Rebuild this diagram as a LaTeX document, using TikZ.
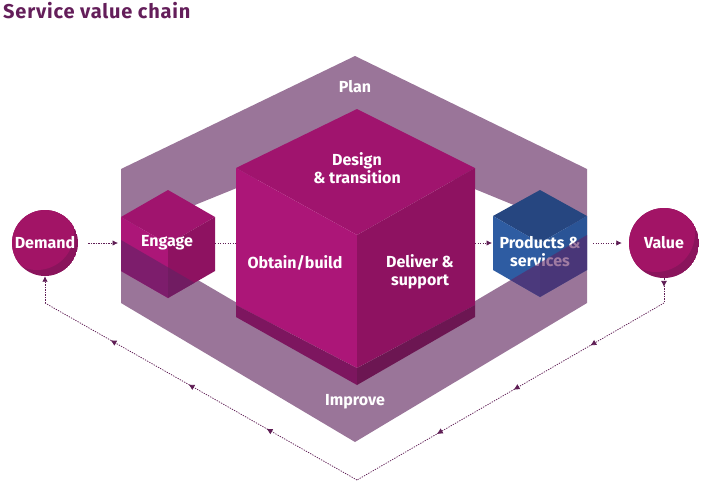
\documentclass[tikz,border=0pt]{standalone}
\usepackage{fontspec}
\setmainfont{Fira Sans}
\usetikzlibrary{arrows.meta,decorations.markings}
\definecolor{band}{RGB}{154,117,153}
\definecolor{ctop}{RGB}{160,20,110}
\definecolor{cleft}{RGB}{172,22,120}
\definecolor{cright}{RGB}{142,18,97}
\definecolor{sleft}{RGB}{125,22,95}
\definecolor{sright}{RGB}{108,22,82}
\definecolor{btop}{RGB}{38,70,128}
\definecolor{bleft}{RGB}{46,92,162}
\definecolor{bright}{RGB}{42,84,150}
\definecolor{overc}{RGB}{95,35,100}
\definecolor{flow}{RGB}{95,30,85}
\definecolor{titlec}{RGB}{100,30,90}
\definecolor{circl}{RGB}{162,20,102}
\definecolor{circd}{RGB}{138,20,92}
\begin{document}
\begin{tikzpicture}[x=1pt,y=-1pt,
  lbl/.style={text=white,font=\bfseries\fontsize{16}{18}\selectfont,align=center,inner sep=0pt},
  flowline/.style={draw=flow,line width=0.75pt,dash pattern=on 1.3pt off 1.2pt},
  tip/.style={-{Latex[length=5.5pt,width=5.5pt]}},
  midtips/.style 2 args={postaction={decorate},decoration={markings,
     mark=between positions #1 and #2 step 0.25 with {\arrow{Latex[length=6pt,width=6pt]}}}},
  onetip/.style={postaction={decorate},decoration={markings,
     mark=at position #1 with {\arrow{Latex[length=6pt,width=6pt]}}}},
  circ/.style={circle,minimum size=66pt,inner sep=0pt}]
\useasboundingbox (0,0) rectangle (703,485);

% title
\node[anchor=west,text=titlec,font=\bfseries\fontsize{20}{22}\selectfont\addfontfeature{LetterSpace=4},inner sep=0pt] (title) at (3,11) {Service value chain};

% band (plan / improve)
\fill[band,even odd rule] (355,56) -- (587,169) -- (587,303) -- (355,442) -- (121,303) -- (121,169) -- cycle
  (355,140) -- (587,235) -- (355,372) -- (121,235) -- cycle;
\node[lbl] (plan) at (355,87) {Plan};
\node[lbl] (improve) at (355,402) {Improve};

% Engage cube
\coordinate (et) at (168,190); \coordinate (eul) at (121,217); \coordinate (eur) at (215,217);
\coordinate (ec) at (168,244); \coordinate (ell) at (121,271); \coordinate (elr) at (215,271);
\coordinate (eb) at (168,298);
\fill[ctop] (et)--(eur)--(ec)--(eul)--cycle;
\fill[cleft] (eul)--(ec)--(eb)--(ell)--cycle;
\fill[cright] (eur)--(ec)--(eb)--(elr)--cycle;
\begin{scope}
  \clip (et)--(eur)--(elr)--(eb)--(ell)--(eul)--cycle;
  \fill[overc,opacity=0.6] (121,240)--(355,376)--(587,235)--(587,303)--(355,442)--(121,303)--cycle;
\end{scope}
\node[lbl] (engage) at (167,243) {Engage};

% Products cube
\coordinate (pt) at (540,190); \coordinate (pul) at (493,216); \coordinate (pur) at (587,216);
\coordinate (pc) at (540,243); \coordinate (pll) at (493,270); \coordinate (plr) at (587,270);
\coordinate (pb) at (540,297);
\fill[btop] (pt)--(pur)--(pc)--(pul)--cycle;
\fill[bleft] (pul)--(pc)--(pb)--(pll)--cycle;
\fill[bright] (pur)--(pc)--(pb)--(plr)--cycle;
\node[lbl] (products) at (540,252) {Products \&\\services};
\begin{scope}
  \clip (pt)--(pur)--(plr)--(pb)--(pll)--(pul)--cycle;
  \fill[overc,opacity=0.6] (121,235)--(355,372)--(587,235)--(587,303)--(355,442)--(121,303)--cycle;
\end{scope}

% central cube
\coordinate (ct) at (357,109); \coordinate (cul) at (236,168); \coordinate (cur) at (475,168);
\coordinate (cc) at (357,235); \coordinate (cll) at (236,305); \coordinate (clr) at (475,305);
\coordinate (cb) at (357,368); \coordinate (sll) at (236,317); \coordinate (slr) at (475,317);
\coordinate (sb) at (357,385);
\fill[ctop] (ct)--(cur)--(cc)--(cul)--cycle;
\fill[cleft] (cul)--(cc)--(cb)--(cll)--cycle;
\fill[cright] (cur)--(cc)--(cb)--(clr)--cycle;
\fill[sleft] (cll)--(cb)--(sb)--(sll)--cycle;
\fill[sright] (cb)--(clr)--(slr)--(sb)--cycle;
\node[lbl] (design) at (357,168) {Design\\\& transition};
\node[lbl] (obtain) at (295,263) {Obtain/build};
\node[lbl] (deliver) at (420,272) {Deliver \&\\support};

% circles
\begin{scope}
  \clip (45,243) circle (33pt);
  \fill[circd] (45,243) circle (33pt);
  \fill[circl] (37,233) circle (37pt);
\end{scope}
\node[circ] (demand) at (45,243) {};
\node[lbl] (demandt) at (45,243) {Demand};
\begin{scope}
  \clip (664,243) circle (35pt);
  \fill[circd] (664,243) circle (35pt);
  \fill[circl] (656,233) circle (39pt);
\end{scope}
\node[circ,minimum size=70pt] (value) at (664,243) {};
\node[lbl] (valuet) at (664,243) {Value};

% flow connectors
\coordinate (ein) at (121,243); \coordinate (eout) at (215,243);
\coordinate (cin) at (236,243); \coordinate (cout) at (475,243);
\coordinate (pin) at (493,243); \coordinate (pout) at (587,243);
\draw[flowline,tip,shorten <=10pt,shorten >=3pt] (demand.east) -- (ein);
\draw[flowline] (eout) -- (cin);
\draw[flowline,tip,shorten >=1pt] (cout) -- (pin);
\draw[flowline,tip,shorten <=6pt,shorten >=7pt] (pout) -- (value.west);

% feedback loop
\coordinate (vr) at (664,303); \coordinate (bot) at (357,480); \coordinate (dl) at (45,303);
\draw[flowline,onetip=0.35] (value.south) -- (vr);
\draw[flowline,midtips={0.24}{0.75}] (vr) -- (bot);
\draw[flowline,midtips={0.29}{0.8}] (bot) -- (dl);
\draw[flowline,tip] (dl) -- (demand.south);
\end{tikzpicture}
\end{document}
